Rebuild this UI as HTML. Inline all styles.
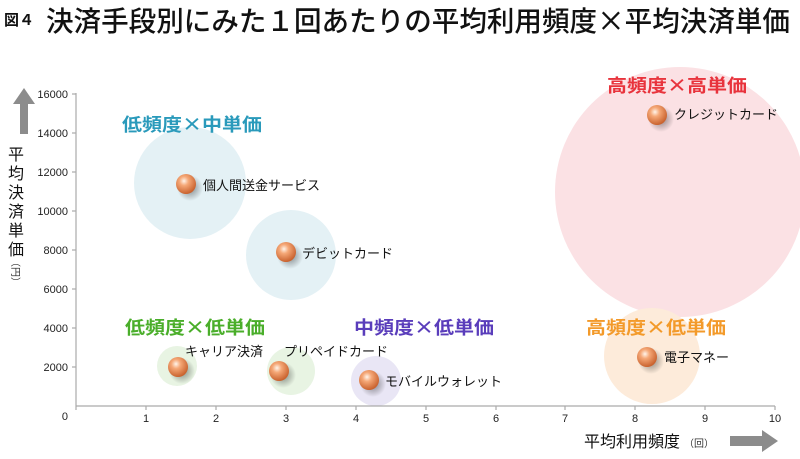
<!DOCTYPE html>
<html><head><meta charset="utf-8"><style>
body{margin:0;background:#fff;}
svg{display:block;font-family:"Liberation Sans","Noto Sans CJK JP",sans-serif;}
.cjk{font-family:"Noto Sans CJK JP",sans-serif;}
</style></head><body>
<svg width="800" height="459" viewBox="0 0 800 459" xmlns="http://www.w3.org/2000/svg">
<defs>
<radialGradient id="ball" cx="0.4" cy="0.35" r="0.65">
<stop offset="0" stop-color="#fff4ea"/><stop offset="0.35" stop-color="#f5a877"/><stop offset="1" stop-color="#c9622e"/>
</radialGradient>
<radialGradient id="sh" cx="0.5" cy="0.5" r="0.5">
<stop offset="0" stop-color="#000" stop-opacity="0.45"/><stop offset="1" stop-color="#000" stop-opacity="0"/>
</radialGradient>
</defs>
<text x="4" y="25" font-size="15" font-weight="bold" fill="#111">図４</text>
<text x="46" y="31" font-size="28" fill="#111" class="cjk" font-weight="500" textLength="744" lengthAdjust="spacingAndGlyphs">決済手段別にみた１回あたりの平均利用頻度×平均決済単価</text>
<!-- bubbles -->
<circle cx="680" cy="192" r="125" fill="#fbe1e4"/>
<circle cx="190" cy="183" r="56" fill="#e4f1f5"/>
<circle cx="291" cy="255" r="45" fill="#e4f1f5"/>
<circle cx="177" cy="366" r="20" fill="#e8f4e3"/>
<circle cx="291" cy="371" r="24" fill="#e8f4e3"/>
<circle cx="376" cy="381" r="25" fill="#e9e6f5"/>
<circle cx="652" cy="356" r="48" fill="#fdebda"/>
<!-- axes -->
<g stroke="#aaa" stroke-width="1.2" fill="none">
<line x1="76" y1="93" x2="76" y2="406"/>
<line x1="76" y1="406" x2="775" y2="406"/>
<line x1="72" y1="94" x2="76" y2="94"/><line x1="72" y1="133" x2="76" y2="133"/><line x1="72" y1="172" x2="76" y2="172"/><line x1="72" y1="211" x2="76" y2="211"/><line x1="72" y1="250" x2="76" y2="250"/><line x1="72" y1="289" x2="76" y2="289"/><line x1="72" y1="328" x2="76" y2="328"/><line x1="72" y1="367" x2="76" y2="367"/>
<line x1="76" y1="406" x2="76" y2="410"/><line x1="146" y1="406" x2="146" y2="410"/><line x1="216" y1="406" x2="216" y2="410"/><line x1="286" y1="406" x2="286" y2="410"/><line x1="356" y1="406" x2="356" y2="410"/><line x1="426" y1="406" x2="426" y2="410"/><line x1="496" y1="406" x2="496" y2="410"/><line x1="565" y1="406" x2="565" y2="410"/><line x1="635" y1="406" x2="635" y2="410"/><line x1="705" y1="406" x2="705" y2="410"/><line x1="775" y1="406" x2="775" y2="410"/>
</g>
<g font-size="11" fill="#222" text-anchor="end">
<text x="68" y="98">16000</text><text x="68" y="137">14000</text><text x="68" y="176">12000</text><text x="68" y="215">10000</text><text x="68" y="254">8000</text><text x="68" y="293">6000</text><text x="68" y="332">4000</text><text x="68" y="371">2000</text><text x="68" y="420">0</text>
</g>
<g font-size="11" fill="#222" text-anchor="middle">
<text x="146" y="422">1</text><text x="216" y="422">2</text><text x="286" y="422">3</text><text x="356" y="422">4</text><text x="426" y="422">5</text><text x="496" y="422">6</text><text x="565" y="422">7</text><text x="635" y="422">8</text><text x="705" y="422">9</text><text x="775" y="422">10</text>
</g>
<!-- y label -->
<polygon points="13,104 24,88 35,104 28,104 28,134 20,134 20,104" fill="#8c8c8c"/>
<g font-size="16" fill="#111" text-anchor="middle" class="cjk">
<text x="16" y="160">平</text><text x="16" y="179">均</text><text x="16" y="198">決</text><text x="16" y="217">済</text><text x="16" y="236">単</text><text x="16" y="255">価</text>
</g>
<text x="16" y="276" font-size="10" fill="#333" text-anchor="middle" class="cjk" transform="rotate(90 16 272)">（円）</text>
<!-- x label -->
<text x="584" y="447" font-size="16" fill="#111" class="cjk">平均利用頻度</text><text x="684" y="447" font-size="10" fill="#333" class="cjk">（回）</text>
<polygon points="730,436 762,436 762,430 778,441 762,452 762,446 730,446" fill="#8c8c8c"/>
<!-- group labels -->
<g font-size="18" font-weight="bold" class="cjk">
<text x="122" y="131" fill="#2a9abb" textLength="140" lengthAdjust="spacingAndGlyphs">低頻度×中単価</text>
<text x="125" y="334" fill="#4aae2a" textLength="140" lengthAdjust="spacingAndGlyphs">低頻度×低単価</text>
<text x="354" y="334" fill="#5a3dbb" textLength="140" lengthAdjust="spacingAndGlyphs">中頻度×低単価</text>
<text x="586" y="334" fill="#f39a2a" textLength="140" lengthAdjust="spacingAndGlyphs">高頻度×低単価</text>
<text x="607" y="92" fill="#e8333c" textLength="140" lengthAdjust="spacingAndGlyphs">高頻度×高単価</text>
</g>
<!-- balls -->
<g>
<circle cx="190" cy="188" r="13" fill="url(#sh)"/><circle cx="186" cy="184" r="10" fill="url(#ball)"/>
<circle cx="290" cy="256" r="13" fill="url(#sh)"/><circle cx="286" cy="252" r="10" fill="url(#ball)"/>
<circle cx="182" cy="371" r="13" fill="url(#sh)"/><circle cx="178" cy="367" r="10" fill="url(#ball)"/>
<circle cx="283" cy="375" r="13" fill="url(#sh)"/><circle cx="279" cy="371" r="10" fill="url(#ball)"/>
<circle cx="373" cy="384" r="13" fill="url(#sh)"/><circle cx="369" cy="380" r="10" fill="url(#ball)"/>
<circle cx="651" cy="361" r="13" fill="url(#sh)"/><circle cx="647" cy="357" r="10" fill="url(#ball)"/>
<circle cx="661" cy="119" r="13" fill="url(#sh)"/><circle cx="657" cy="115" r="10" fill="url(#ball)"/>
</g>
<g font-size="13" fill="#111" class="cjk">
<text x="203" y="190">個人間送金サービス</text>
<text x="302" y="258">デビットカード</text>
<text x="185" y="356">キャリア決済</text>
<text x="284" y="356">プリペイドカード</text>
<text x="385" y="386">モバイルウォレット</text>
<text x="664" y="362">電子マネー</text>
<text x="674" y="119">クレジットカード</text>
</g>
</svg>
</body></html>
